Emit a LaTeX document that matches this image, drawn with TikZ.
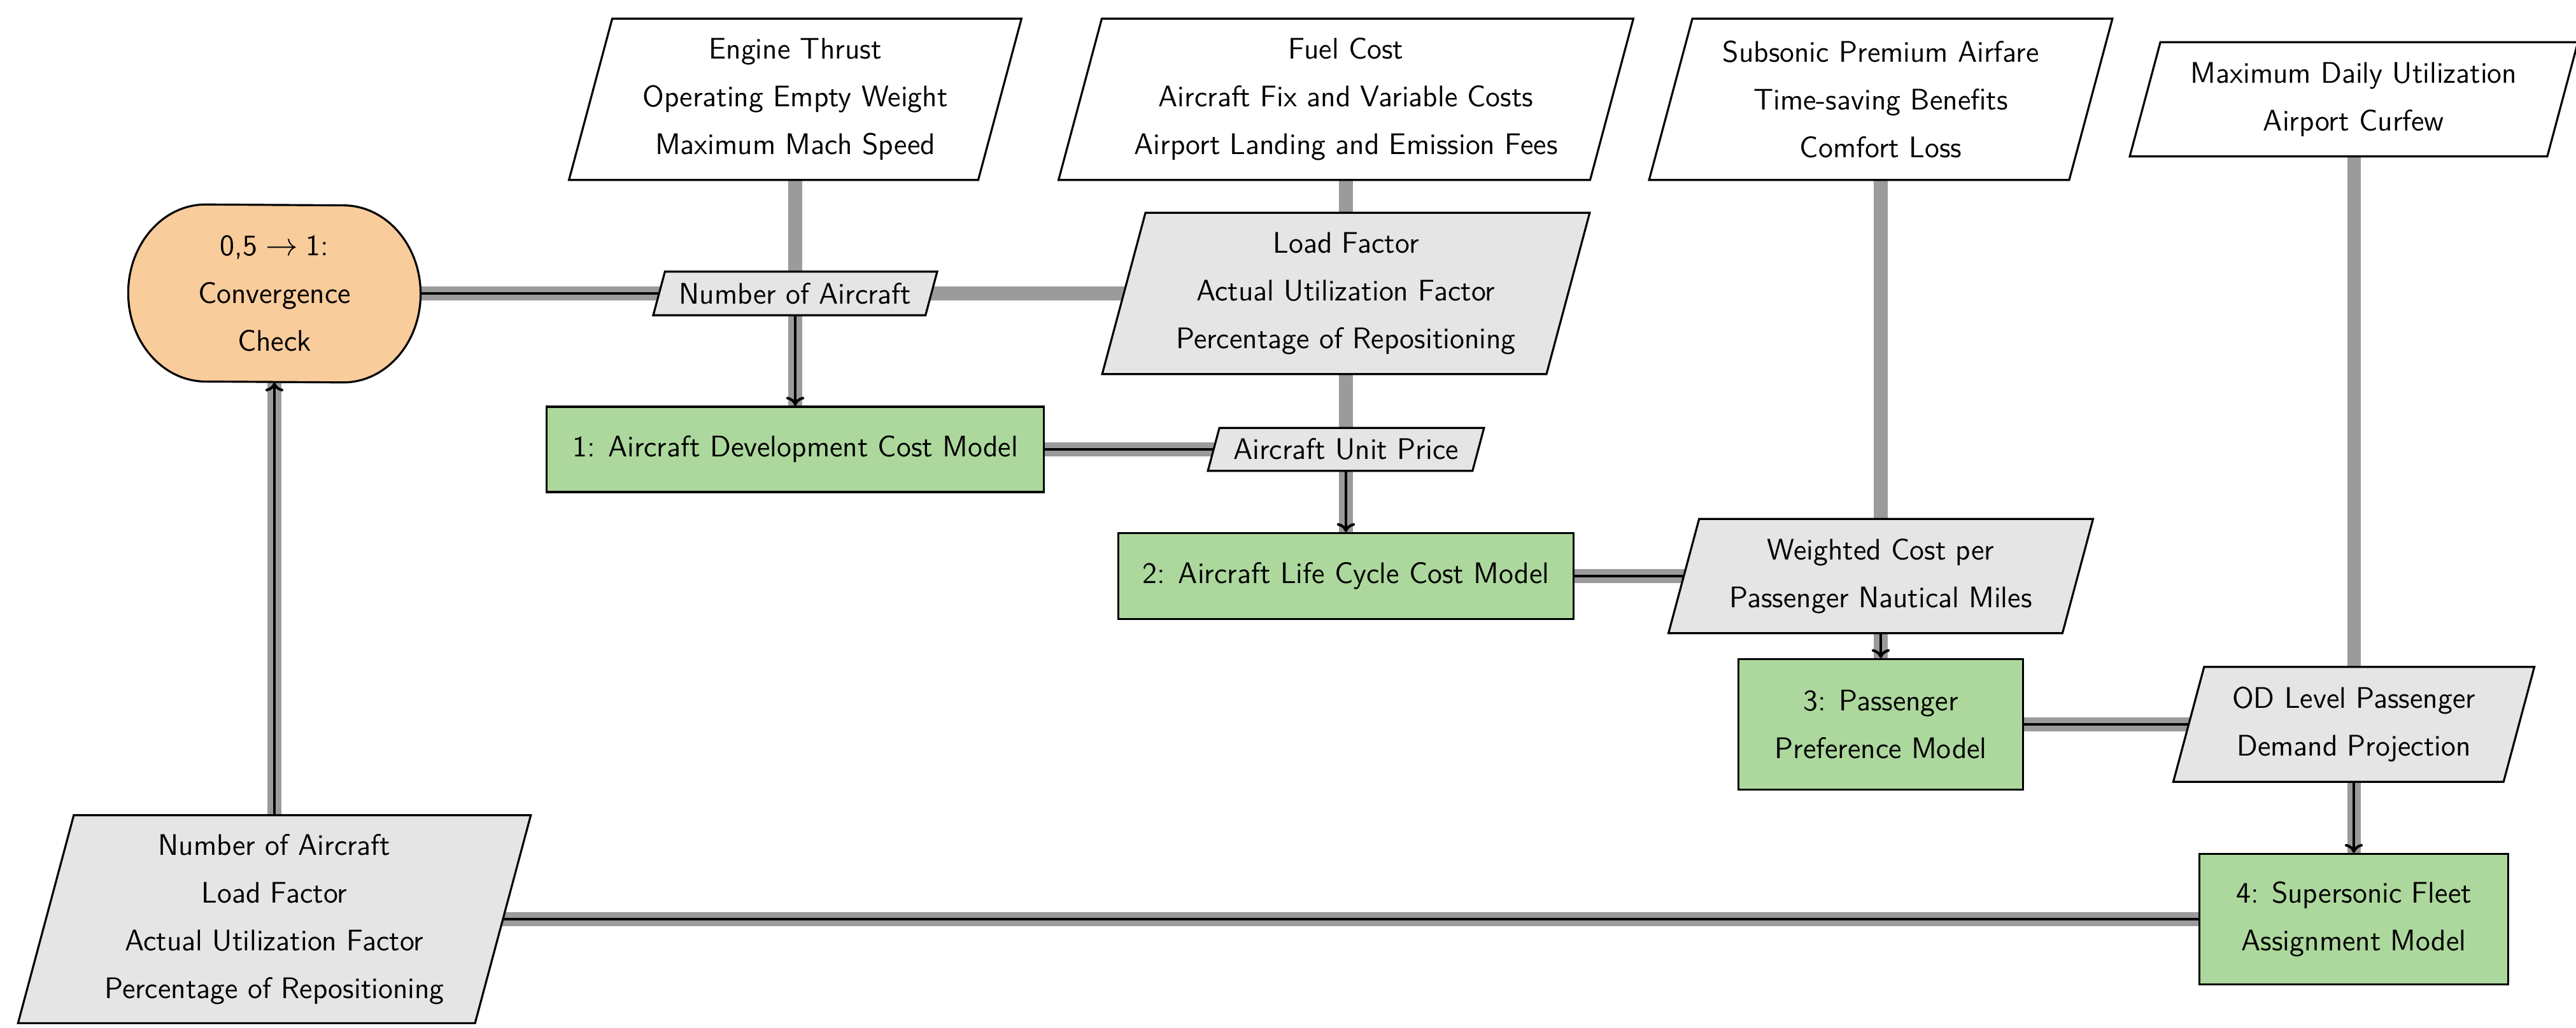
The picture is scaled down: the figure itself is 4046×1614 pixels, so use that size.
\documentclass[tikz,border=0pt]{standalone}
\usepackage{fontspec}
\usetikzlibrary{arrows.meta,calc}
\definecolor{convfill}{RGB}{248,204,155}
\definecolor{compfill}{RGB}{173,216,157}
\definecolor{datafill}{RGB}{229,229,229}
\definecolor{flowgray}{RGB}{155,155,155}
\pgfdeclarelayer{edgelayer}
\pgfdeclarelayer{shapelayer}
\pgfsetlayers{edgelayer,shapelayer,main}
\tikzset{
  lbl/.style={font=\fontsize{13.3}{21.3}\selectfont\sffamily, align=center, inner sep=0pt},
  comp/.style={lbl, draw=black, line width=0.9pt, fill=compfill},
  frame/.style={draw=black, line width=0.9pt},
  inflow/.style={draw=flowgray, line width=6pt},
  dataflow/.style={draw=black, line width=1.2pt, preaction={draw=flowgray, line width=6pt, -}},
  dataarrow/.style={dataflow, -{To[length=4pt,width=8pt]}},
}
\newcommand\slantframe[2]{%
  \path let \p1=(#1.north west), \p2=(#1.south east), \n1={0.134*(\y1-\y2)} in
    [frame, fill=#2] (\x1+\n1,\y1) -- (\x2+\n1,\y1) -- (\x2-\n1,\y2) -- (\x1-\n1,\y2) -- cycle;}
\begin{document}
\begin{tikzpicture}[x=0.01cm, y=-0.01cm]
\useasboundingbox (0,0) rectangle (4046,1614);
% nodes
\node[lbl, minimum width=4.59cm, minimum height=2.78cm] (conv) at (431,461) {0,5\;$\rightarrow$\;1:\\Convergence\\Check};
\node[lbl, minimum width=6.41cm, minimum height=2.52cm] (engine) at (1249,156) {Engine Thrust\\Operating Empty Weight\\Maximum Mach Speed};
\node[lbl, minimum width=8.33cm, minimum height=2.52cm] (fuel) at (2114,156) {Fuel Cost\\Aircraft Fix and Variable Costs\\Airport Landing and Emission Fees};
\node[lbl, minimum width=6.58cm, minimum height=2.52cm] (subs) at (2954,156) {Subsonic Premium Airfare\\Time-saving Benefits\\Comfort Loss};
\node[lbl, minimum width=6.54cm, minimum height=1.78cm] (maxd) at (3697,156) {Maximum Daily Utilization\\Airport Curfew};
\node[lbl, minimum width=4.26cm, minimum height=0.67cm] (nac) at (1249,461) {Number of Aircraft};
\node[lbl, minimum width=6.96cm, minimum height=2.52cm] (lf) at (2114,461) {Load Factor\\Actual Utilization Factor\\Percentage of Repositioning};
\node[comp, minimum width=7.81cm, minimum height=1.34cm] (dev) at (1249,706) {1: Aircraft Development Cost Model};
\node[lbl, minimum width=4.14cm, minimum height=0.66cm] (aup) at (2114,706) {Aircraft Unit Price};
\node[comp, minimum width=7.14cm, minimum height=1.35cm] (lcc) at (2114,905) {2: Aircraft Life Cycle Cost Model};
\node[lbl, minimum width=6.17cm, minimum height=1.78cm] (wcp) at (2954,905) {Weighted Cost per\\Passenger Nautical Miles};
\node[comp, minimum width=4.47cm, minimum height=2.05cm] (ppm) at (2954,1138) {3: Passenger\\Preference Model};
\node[lbl, minimum width=5.17cm, minimum height=1.79cm] (od) at (3697,1138) {OD Level Passenger\\Demand Projection};
\node[comp, minimum width=4.85cm, minimum height=2.05cm] (sfa) at (3697,1444) {4: Supersonic Fleet\\Assignment Model};
\node[lbl, minimum width=7.16cm, minimum height=3.25cm] (outb) at (431,1444) {Number of Aircraft\\Load Factor\\Actual Utilization Factor\\Percentage of Repositioning};
% shapes
\begin{pgfonlayer}{shapelayer}
\draw[frame, fill=convfill] ([xshift=-1.08cm]conv.north) arc[start angle=90, end angle=270, x radius=1.215cm, y radius=1.39cm] -- ([xshift=1.08cm]conv.south) arc[start angle=-90, end angle=90, x radius=1.215cm, y radius=1.39cm] -- cycle;
\slantframe{engine}{white}
\slantframe{fuel}{white}
\slantframe{subs}{white}
\slantframe{maxd}{white}
\slantframe{nac}{datafill}
\slantframe{lf}{datafill}
\slantframe{aup}{datafill}
\slantframe{wcp}{datafill}
\slantframe{od}{datafill}
\slantframe{outb}{datafill}
\end{pgfonlayer}
% connectors
\begin{pgfonlayer}{edgelayer}
\draw[inflow] (engine.center) -- (nac.center);
\draw[inflow] (nac.center) -- (lf.center);
\draw[inflow] (fuel.center) -- (lf.center);
\draw[inflow] (lf.center) -- (aup.center);
\draw[inflow] (subs.center) -- (wcp.center);
\draw[inflow] (maxd.center) -- (od.center);
\draw[dataflow] (conv.center) -- (nac.center);
\draw[dataarrow] (nac.center) -- (dev.north);
\draw[dataflow] (dev.center) -- (aup.center);
\draw[dataarrow] (aup.center) -- (lcc.north);
\draw[dataflow] (lcc.center) -- (wcp.center);
\draw[dataarrow] (wcp.center) -- (ppm.north);
\draw[dataflow] (ppm.center) -- (od.center);
\draw[dataarrow] (od.center) -- (sfa.north);
\draw[dataflow] (sfa.center) -- (outb.center);
\draw[dataarrow] (outb.center) -- (conv.south);
\end{pgfonlayer}
\end{tikzpicture}
\end{document}
